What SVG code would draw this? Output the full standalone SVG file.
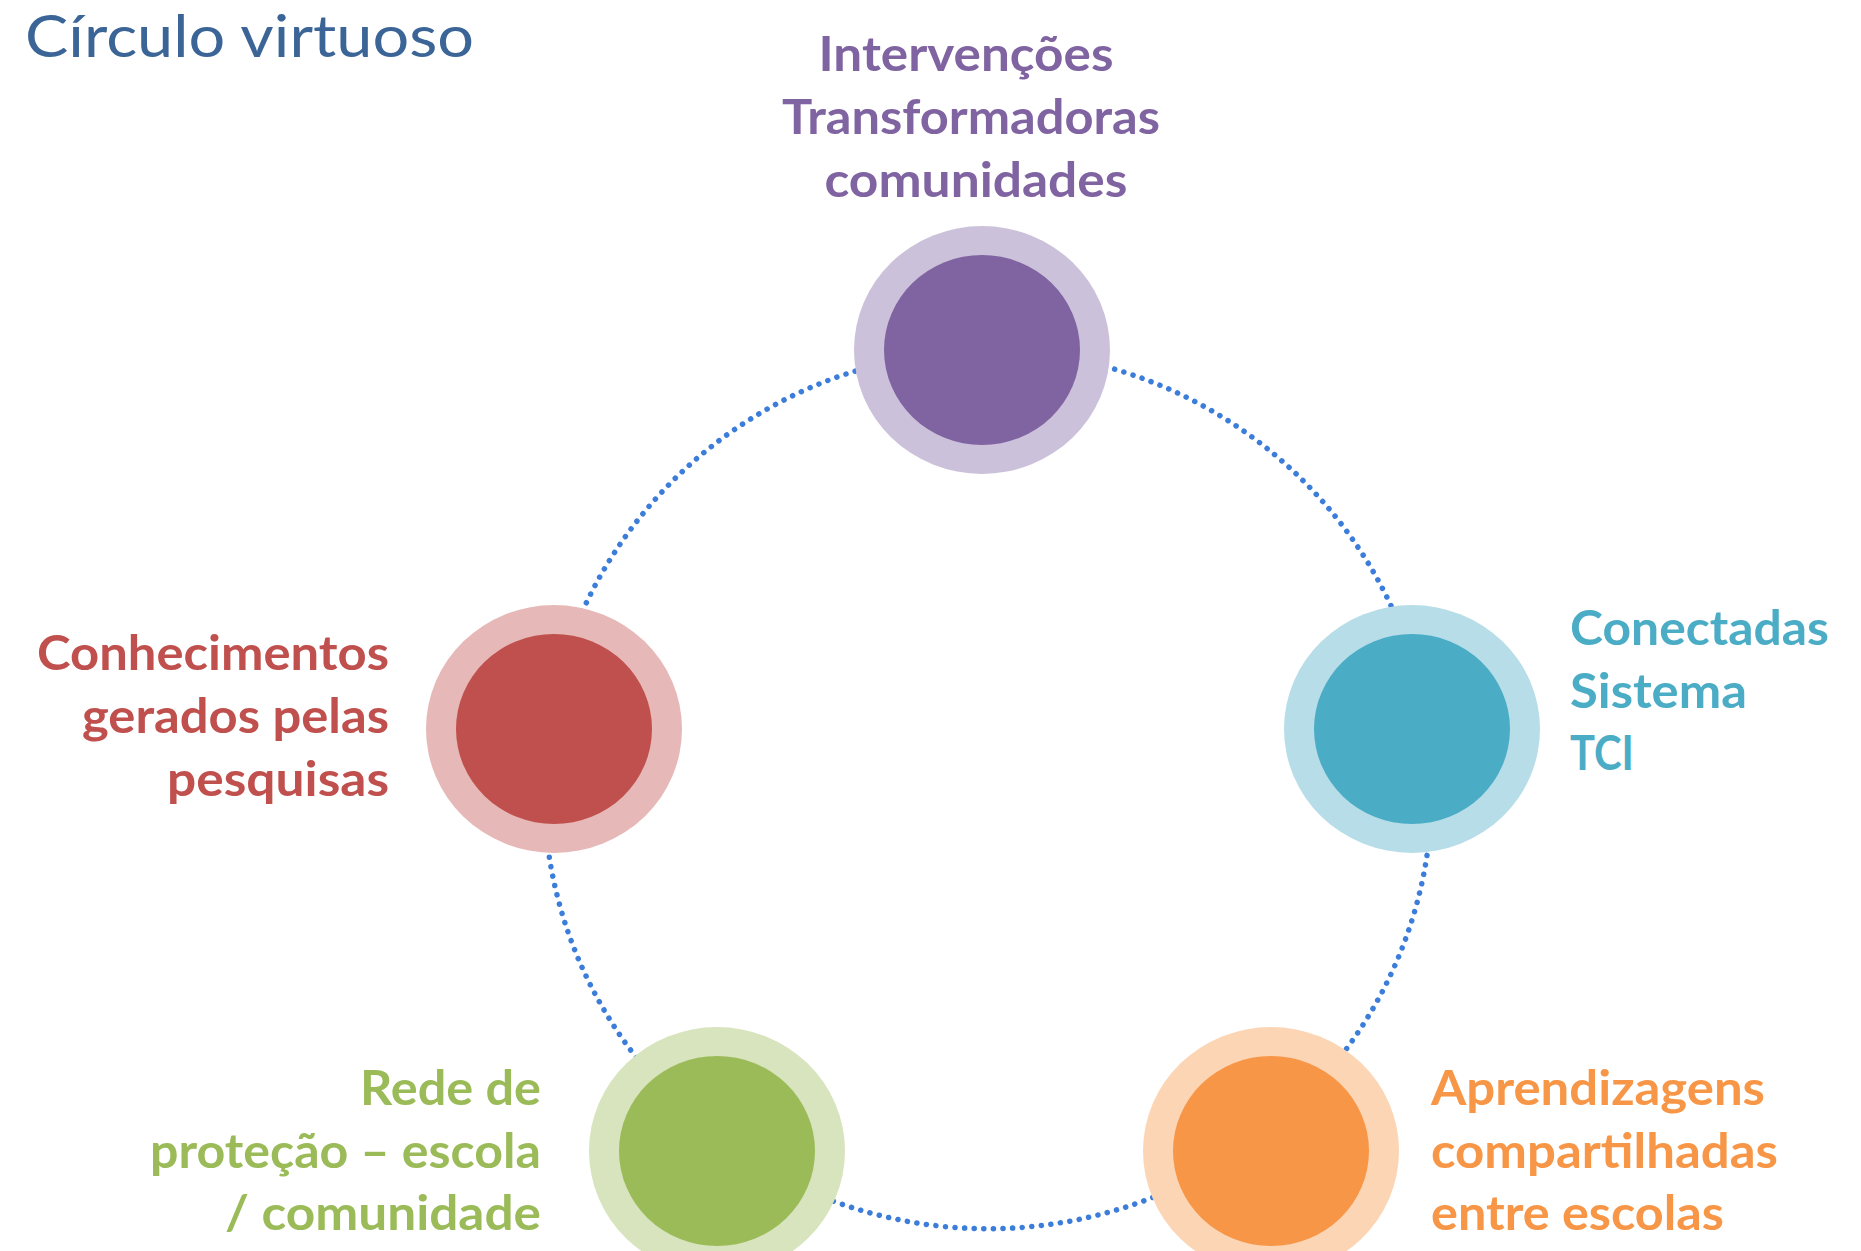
<svg xmlns="http://www.w3.org/2000/svg" width="1861" height="1251" viewBox="0 0 1861 1251">
<style>
.t{font-family:Lato,"Open Sans","Liberation Sans",sans-serif;font-weight:700;font-size:47px}
.title{font-family:Lato,"Open Sans","Liberation Sans",sans-serif;font-size:59px;fill:#3B6597}
.ring{stroke:#3C7DD9;stroke-width:5.5;stroke-dasharray:0.1 9.5;stroke-linecap:round;fill:none}
.pu{fill:#8064A2}.pul{fill:#CCC1DA}
.cy{fill:#4BACC6}.cyl{fill:#B7DEE8}
.or{fill:#F79646}.orl{fill:#FCD5B5}
.gr{fill:#9BBB59}.grl{fill:#D7E4BD}
.rd{fill:#C0504D}.rdl{fill:#E6B9B8}
</style>
<rect width="1861" height="1251" fill="#ffffff"/>
<text class="title" x="25" y="57" textLength="449" lengthAdjust="spacingAndGlyphs">Círculo virtuoso</text>
<g id="connectors">
<path class="ring" d="M982,351 A444,439 0 0 1 1428,731"/>
<path class="ring" d="M1428,731 A444,439 0 0 1 1261,1136"/>
<path class="ring" d="M1261,1136 A444,439 0 0 1 726,1144"/>
<path class="ring" d="M726,1144 A444,439 0 0 1 548,731"/>
<path class="ring" d="M548,731 A444,439 0 0 1 982,351"/>
</g>
<g id="node-intervencoes">
<ellipse class="pul" cx="982" cy="350" rx="128" ry="124"/>
<ellipse class="pu" cx="982" cy="350" rx="98" ry="95"/>
<text class="t pu" x="966" y="71" text-anchor="middle" textLength="295" lengthAdjust="spacingAndGlyphs">Intervenções</text>
<text class="t pu" x="971" y="134" text-anchor="middle" textLength="378" lengthAdjust="spacingAndGlyphs">Transformadoras</text>
<text class="t pu" x="976" y="197" text-anchor="middle" textLength="303" lengthAdjust="spacingAndGlyphs">comunidades</text>
</g>
<g id="node-conectadas">
<ellipse class="cyl" cx="1412" cy="729" rx="128" ry="124"/>
<ellipse class="cy" cx="1412" cy="729" rx="98" ry="95"/>
<text class="t cy" x="1570" y="645" textLength="259" lengthAdjust="spacingAndGlyphs">Conectadas</text>
<text class="t cy" x="1570" y="708" textLength="177" lengthAdjust="spacingAndGlyphs">Sistema</text>
<text class="t cy" x="1570" y="770" textLength="64" lengthAdjust="spacingAndGlyphs">TCI</text>
</g>
<g id="node-aprendizagens">
<ellipse class="orl" cx="1271" cy="1151" rx="128" ry="124"/>
<ellipse class="or" cx="1271" cy="1151" rx="98" ry="95"/>
<text class="t or" x="1431" y="1105" textLength="334" lengthAdjust="spacingAndGlyphs">Aprendizagens</text>
<text class="t or" x="1431" y="1168" textLength="347" lengthAdjust="spacingAndGlyphs">compartilhadas</text>
<text class="t or" x="1431" y="1230" textLength="293" lengthAdjust="spacingAndGlyphs">entre escolas</text>
</g>
<g id="node-rede">
<ellipse class="grl" cx="717" cy="1151" rx="128" ry="124"/>
<ellipse class="gr" cx="717" cy="1151" rx="98" ry="95"/>
<text class="t gr" x="541" y="1105" text-anchor="end" textLength="181" lengthAdjust="spacingAndGlyphs">Rede de</text>
<text class="t gr" x="541" y="1168" text-anchor="end" textLength="391" lengthAdjust="spacingAndGlyphs">proteção – escola</text>
<text class="t gr" x="541" y="1230" text-anchor="end" textLength="316" lengthAdjust="spacingAndGlyphs">/ comunidade</text>
</g>
<g id="node-conhecimentos">
<ellipse class="rdl" cx="554" cy="729" rx="128" ry="124"/>
<ellipse class="rd" cx="554" cy="729" rx="98" ry="95"/>
<text class="t rd" x="389" y="670" text-anchor="end" textLength="352" lengthAdjust="spacingAndGlyphs">Conhecimentos</text>
<text class="t rd" x="389" y="733" text-anchor="end" textLength="307" lengthAdjust="spacingAndGlyphs">gerados pelas</text>
<text class="t rd" x="389" y="796" text-anchor="end" textLength="222" lengthAdjust="spacingAndGlyphs">pesquisas</text>
</g>
</svg>
